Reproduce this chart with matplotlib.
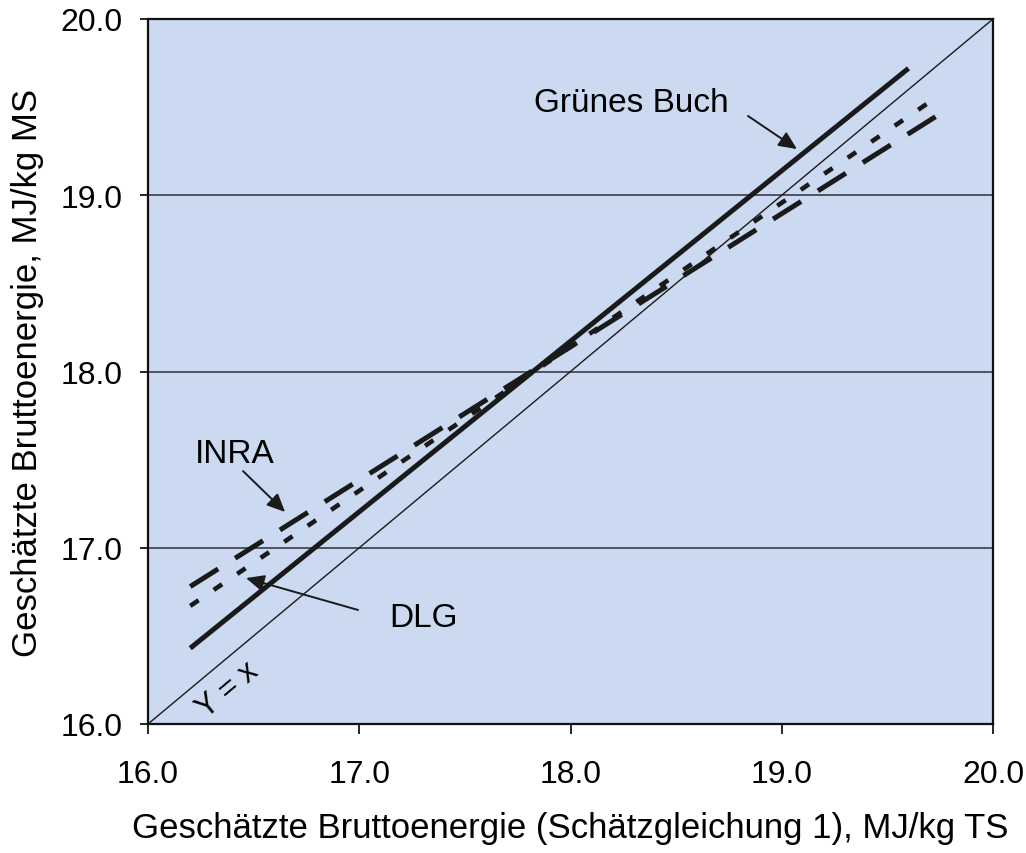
import matplotlib
matplotlib.use("Agg")
import matplotlib.pyplot as plt
import numpy as np

plt.rcParams['font.family'] = ['Liberation Sans', 'DejaVu Sans']

# Data
x_gb = [16.2, 19.6]
y_gb = [16.43, 19.72]
x_inra = [16.2, 19.8]
y_inra = [16.78, 19.50]
x_dlg = [16.2, 19.75]
y_dlg = [16.67, 19.57]
x_id = [16.0, 20.0]
y_id = [16.0, 20.0]

ticks = [16.0, 17.0, 18.0, 19.0, 20.0]
tick_labels = ["16.0", "17.0", "18.0", "19.0", "20.0"]

fig = plt.figure(figsize=(10.26, 8.54), dpi=100)
ax = fig.add_axes([148/1026, 1-725/854, (993-148)/1026, (725-20)/854])
ax.set_facecolor('#cbdaf0')
ax.set_xlim(16, 20)
ax.set_ylim(16, 20)

for g in [17.0, 18.0, 19.0]:
    ax.axhline(g, color='#3c3c46', lw=1.2, zorder=1)

ax.plot(x_id, y_id, color='#1a1a1a', lw=1.0, zorder=2)
ax.plot(x_gb, y_gb, color='#1a1a1a', lw=3.6, solid_capstyle='butt', zorder=3)
l1, = ax.plot(x_inra, y_inra, color='#1a1a1a', lw=3.6, dash_capstyle='butt', zorder=3)
l1.set_dashes((6.6, 4.0))
l2, = ax.plot(x_dlg, y_dlg, color='#1a1a1a', lw=3.3, dash_capstyle='butt', zorder=3)
l2.set_dashes((2.2, 4.0))

ax.set_xticks(ticks)
ax.set_xticklabels(tick_labels)
ax.set_yticks(ticks)
ax.set_yticklabels(tick_labels)
ax.tick_params(axis='x', direction='out', length=7, width=1.2, pad=18, labelsize=23)
ax.tick_params(axis='y', direction='out', length=6, width=1.2, pad=12, labelsize=23)
for s in ax.spines.values():
    s.set_linewidth(1.6)
    s.set_color('#111111')

ax.set_xlabel("Geschätzte Bruttoenergie (Schätzgleichung 1), MJ/kg TS", fontsize=25, labelpad=16)
ax.set_ylabel("Geschätzte Bruttoenergie, MJ/kg MS", fontsize=25, labelpad=12)

arrow = dict(arrowstyle='-|>,head_length=1.1,head_width=0.5', color='#1a1a1a', lw=1.4,
             shrinkA=0, shrinkB=0)
ax.annotate("", xy=(19.072, 19.262), xytext=(18.840, 19.450), arrowprops=arrow)
ax.text(18.286, 19.529, "Grünes Buch", fontsize=24, ha='center', va='center')
ax.annotate("", xy=(16.649, 17.203), xytext=(16.450, 17.435), arrowprops=arrow)
ax.text(16.412, 17.532, "INRA", fontsize=24, ha='center', va='center')
ax.annotate("", xy=(16.464, 16.828), xytext=(16.994, 16.647), arrowprops=arrow)
ax.text(17.302, 16.607, "DLG", fontsize=24, ha='center', va='center')
ax.text(16.379, 16.199, "Y = x", fontsize=22, ha='center', va='center', rotation=40)

fig.savefig("out.png", dpi=100)
